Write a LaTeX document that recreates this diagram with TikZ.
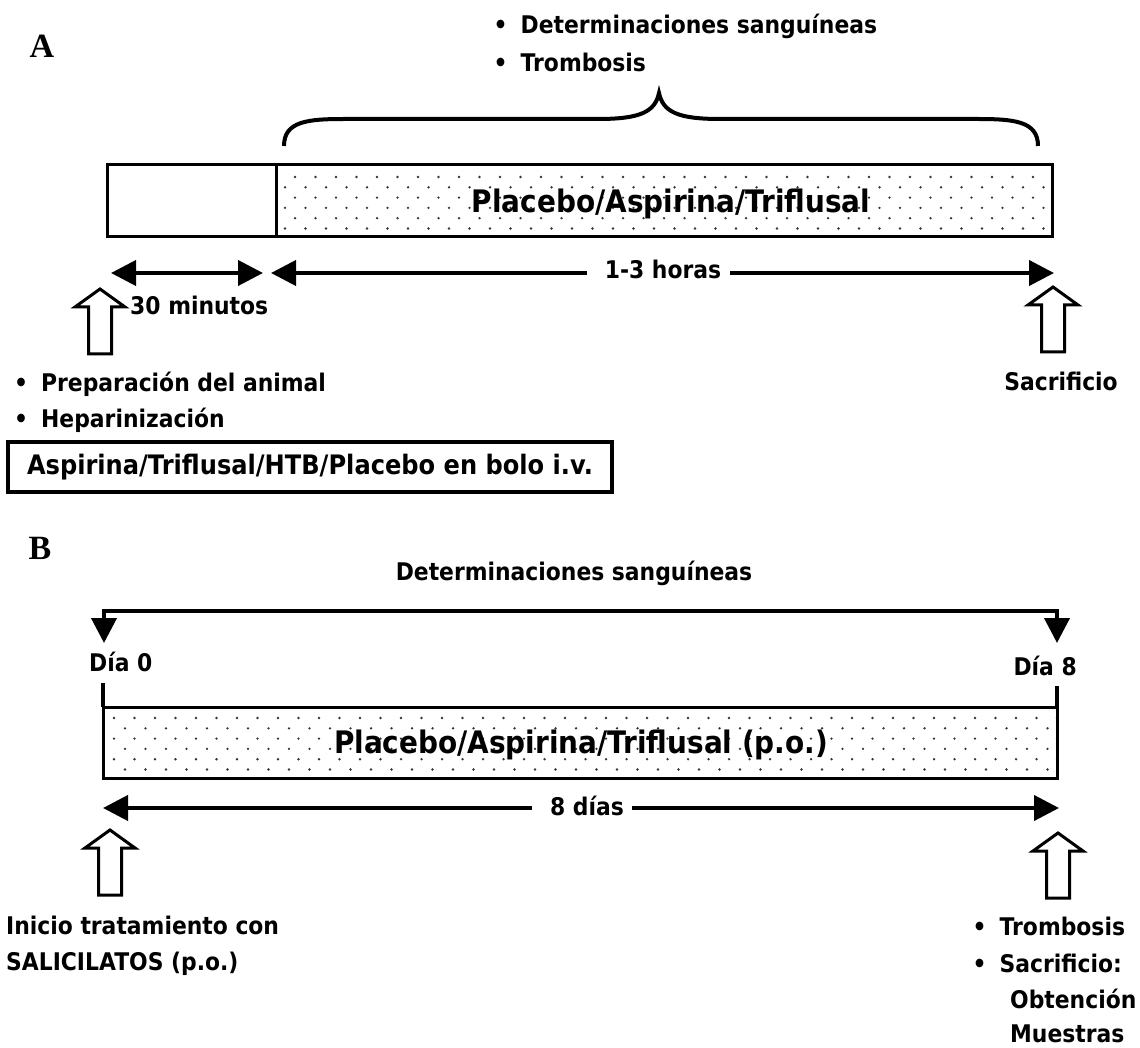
\documentclass[tikz,border=0pt]{standalone}
\usepackage{fontspec}
\usetikzlibrary{arrows.meta}
\setmainfont{DejaVu Sans}
\newfontfamily\lab[FakeStretch=0.9]{DejaVu Sans}
\newfontfamily\panelfont{Liberation Serif}

\tikzset{
  lbl/.style={font=\lab\bfseries\fontsize{24.3}{29}\selectfont, inner sep=0pt},
  bigl/.style={font=\lab\bfseries\fontsize{31}{36}\selectfont, inner sep=0pt},
  boxl/.style={font=\lab\bfseries\fontsize{26.8}{32}\selectfont, inner sep=0pt},
  panel/.style={font=\panelfont\bfseries\fontsize{34}{38}\selectfont, inner sep=0pt},
  frame/.style={line width=3pt},
  arr/.style={line width=4pt},
  brace/.style={line width=4pt},
  dotc/.style={fill=black!80},
  >={Triangle[length=25pt,width=25pt]},
  hollowup/.pic={
    \draw[line width=3pt, fill=white, line join=miter]
      (0,0) -- (25,18) -- (11.5,18) -- (11.5,65) -- (-11.5,65) -- (-11.5,18) -- (-25,18) -- cycle;
  }
}

% staggered dot texture: #1 left, #2 top, #3 right, #4 bottom, #5 first row y, #6 x of even rows, #7 x of odd rows
\newcommand\dottexture[7]{%
  \begin{scope}
    \clip (#1,#2) rectangle (#3,#4);
    \foreach \k in {0,...,5} {
      \pgfmathsetmacro\yy{#5+10.3*\k}
      \pgfmathsetmacro\xs{ifthenelse(mod(\k,2)==0,#6,#7)}
      \foreach \i in {0,...,47}
        \fill[dotc] (\xs+20.5*\i,\yy) circle[radius=1.3pt];
    }
  \end{scope}}

\begin{document}
\begin{tikzpicture}[x=1pt,y=-1pt]
\useasboundingbox (0,0) rectangle (1140,1048);

% ---------------- Panel A: acute protocol ----------------
\node[panel] (labA) at (42,46) {A};
\node[lbl, anchor=base west] (detA) at (493.5,34) {•\kern13pt Determinaciones sanguíneas};
\node[lbl, anchor=base west] (tromA) at (493.5,72) {•\kern13pt Trombosis};

% curly brace over the treatment period
\draw[brace] (284,146) .. controls (284,121) and (308,119) .. (345,119)
  -- (598,119) .. controls (640,119) and (655,112) .. (659,93)
  .. controls (663,112) and (678,119) .. (720,119)
  -- (977,119) .. controls (1014,119) and (1038,121) .. (1038,146);

% time bar
\dottexture{276}{165}{1052}{237}{177}{295}{285}
\draw[frame] (107,165) rectangle (1052,237);
\draw[frame] (276,165) -- (276,237);
\node[bigl, anchor=base] (trtA) at (671,213) {Placebo/Aspirina/Triflusal};

% durations
\coordinate (a0) at (111,273);
\coordinate (a1) at (263,273);
\coordinate (a2) at (271,273);
\coordinate (a3) at (1054,273);
\draw[arr, <->] (a0) -- (a1);
\node[lbl, anchor=base] (hrs) at (663,279) {1-3 horas};
\draw[arr, <-] (a2) -- ([xshift=-18pt]hrs.west |- a2);
\draw[arr, ->] ([xshift=9pt]hrs.east |- a3) -- (a3);
\node[lbl, anchor=base west] (min) at (130,315) {30 minutos};

% events
\pic at (100,289) {hollowup};
\pic at (1053,287) {hollowup};
\node[lbl, anchor=base] (sacA) at (1061,390) {Sacrificio};
\node[lbl, anchor=base west] (prep) at (14,391) {•\kern13pt Preparación del animal};
\node[lbl, anchor=base west] (hep) at (14,427) {•\kern13pt Heparinización};
\node[boxl, draw, line width=3.5pt, minimum width=604pt, minimum height=50pt] (bolo) at (310,467)
  {Aspirina/Triflusal/HTB/Placebo en bolo i.v.};

% ---------------- Panel B: oral protocol ----------------
\node[panel] (labB) at (40,548) {B};
\node[lbl, anchor=base] (detB) at (574,580) {Determinaciones sanguíneas};
\coordinate (d0) at (104,643);
\coordinate (d8) at (1057,643);
\draw[arr, <->] (d0) -- ++(0,-32) -| (d8);
\node[lbl, anchor=base west] (dia0) at (89,671) {Día 0};
\node[lbl, anchor=base east] (dia8) at (1077,675) {Día 8};

% time bar
\dottexture{103}{707}{1057}{778}{718}{114}{125}
\draw[frame] (103,707) rectangle (1057,778);
\draw[arr] (103,683) -- (103,707);
\draw[arr] (1057,686) -- (1057,707);
\node[bigl, anchor=base] (trtB) at (581,753) {Placebo/Aspirina/Triflusal (p.o.)};

% duration
\coordinate (b0) at (103,808);
\coordinate (b1) at (1059,808);
\node[lbl, anchor=base] (dias) at (587,815) {8 días};
\draw[arr, <-] (b0) -- ([xshift=-18pt]dias.west |- b0);
\draw[arr, ->] ([xshift=8pt]dias.east |- b1) -- (b1);

% events
\pic at (110,830) {hollowup};
\pic at (1058,833) {hollowup};
\node[lbl, anchor=base west] (ini1) at (6,934) {Inicio tratamiento con};
\node[lbl, anchor=base west] (ini2) at (6,970) {SALICILATOS (p.o.)};
\node[lbl, anchor=base west] (tromB) at (972.5,935) {•\kern13pt Trombosis};
\node[lbl, anchor=base west] (sacB) at (972.5,972) {•\kern13pt Sacrificio:};
\node[lbl, anchor=base west] (obt) at (1010,1008) {Obtención};
\node[lbl, anchor=base west] (mue) at (1010,1042) {Muestras};
\end{tikzpicture}
\end{document}
